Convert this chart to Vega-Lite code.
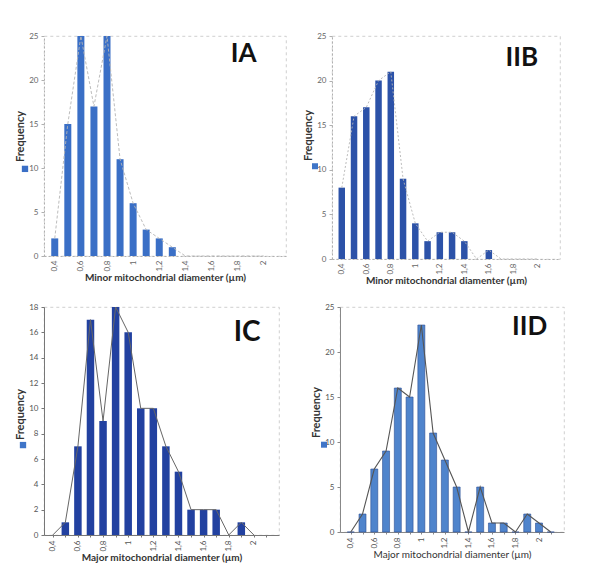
{
  "$schema": "https://vega.github.io/schema/vega-lite/v6.json",
  "background": "white",
  "padding": {"left": 14, "top": 31, "right": 5, "bottom": 2},
  "config": {
    "font": "Lato",
    "view": {"stroke": "#c4c4c4", "strokeDash": [3, 3], "strokeWidth": 0.8},
    "axis": {
      "labelFont": "Lato", "labelFontSize": 8, "labelColor": "#666", "labelOverlap": false, "tickCount": 30,
      "titleFont": "Lato", "titleFontWeight": "bold", "titleColor": "#333",
      "grid": false, "domainColor": "#b0b0b0", "tickColor": "#b0b0b0", "tickSize": 3
    },
    "text": {"font": "Lato"}
  },
  "datasets": {
    "ia": [
      {"diameter": 0.4, "frequency": 2}, {"diameter": 0.5, "frequency": 15}, {"diameter": 0.6, "frequency": 25},
      {"diameter": 0.7, "frequency": 17}, {"diameter": 0.8, "frequency": 25}, {"diameter": 0.9, "frequency": 11},
      {"diameter": 1.0, "frequency": 6}, {"diameter": 1.1, "frequency": 3}, {"diameter": 1.2, "frequency": 2},
      {"diameter": 1.3, "frequency": 1}, {"diameter": 1.4, "frequency": 0}, {"diameter": 1.5, "frequency": 0},
      {"diameter": 1.6, "frequency": 0}, {"diameter": 1.7, "frequency": 0}, {"diameter": 1.8, "frequency": 0},
      {"diameter": 1.9, "frequency": 0}, {"diameter": 2.0, "frequency": 0}
    ],
    "iib": [
      {"diameter": 0.4, "frequency": 8}, {"diameter": 0.5, "frequency": 16}, {"diameter": 0.6, "frequency": 17},
      {"diameter": 0.7, "frequency": 20}, {"diameter": 0.8, "frequency": 21}, {"diameter": 0.9, "frequency": 9},
      {"diameter": 1.0, "frequency": 4}, {"diameter": 1.1, "frequency": 2}, {"diameter": 1.2, "frequency": 3},
      {"diameter": 1.3, "frequency": 3}, {"diameter": 1.4, "frequency": 2}, {"diameter": 1.5, "frequency": 0},
      {"diameter": 1.6, "frequency": 1}, {"diameter": 1.7, "frequency": 0}, {"diameter": 1.8, "frequency": 0},
      {"diameter": 1.9, "frequency": 0}, {"diameter": 2.0, "frequency": 0}
    ],
    "ic": [
      {"diameter": 0.4, "frequency": 0}, {"diameter": 0.5, "frequency": 1}, {"diameter": 0.6, "frequency": 7},
      {"diameter": 0.7, "frequency": 17}, {"diameter": 0.8, "frequency": 9}, {"diameter": 0.9, "frequency": 18},
      {"diameter": 1.0, "frequency": 16}, {"diameter": 1.1, "frequency": 10}, {"diameter": 1.2, "frequency": 10},
      {"diameter": 1.3, "frequency": 7}, {"diameter": 1.4, "frequency": 5}, {"diameter": 1.5, "frequency": 2},
      {"diameter": 1.6, "frequency": 2}, {"diameter": 1.7, "frequency": 2}, {"diameter": 1.8, "frequency": 0},
      {"diameter": 1.9, "frequency": 1}, {"diameter": 2.0, "frequency": 0}
    ],
    "iid": [
      {"diameter": 0.4, "frequency": 0}, {"diameter": 0.5, "frequency": 2}, {"diameter": 0.6, "frequency": 7},
      {"diameter": 0.7, "frequency": 9}, {"diameter": 0.8, "frequency": 16}, {"diameter": 0.9, "frequency": 15},
      {"diameter": 1.0, "frequency": 23}, {"diameter": 1.1, "frequency": 11}, {"diameter": 1.2, "frequency": 8},
      {"diameter": 1.3, "frequency": 5}, {"diameter": 1.4, "frequency": 0}, {"diameter": 1.5, "frequency": 5},
      {"diameter": 1.6, "frequency": 1}, {"diameter": 1.7, "frequency": 1}, {"diameter": 1.8, "frequency": 0},
      {"diameter": 1.9, "frequency": 2}, {"diameter": 2.0, "frequency": 1}, {"diameter": 2.1, "frequency": 0}
    ]
  },
  "vconcat": [
    {
      "spacing": 15,
      "hconcat": [
        {
          "width": 242, "height": 220,
          "layer": [
            {"data": {"name": "ia"},
              "mark": {"type": "bar", "width": 7, "color": "#3a6fc6"},
              "encoding": {
                "x": {"field": "diameter", "type": "quantitative",
                  "scale": {"domain": [0.356, 2.132], "nice": false, "zero": false},
                  "axis": {"values": [0.4, 0.6, 0.8, 1, 1.2, 1.4, 1.6, 1.8, 2], "tickCount": 30, "format": "~g", "labelExpr": "replace(datum.label, '.', ',')",
                    "labelOverlap": false, "labelAngle": -90, "domainDash": [2, 2], "ticks": false, "labelPadding": 4, "title": "Minor mitochondrial diamenter (µm)", "titleFontSize": 10, "titlePadding": 1}},
                "y": {"field": "frequency", "type": "quantitative",
                  "scale": {"domain": [0, 25], "nice": false},
                  "axis": {"values": [0, 5, 10, 15, 20, 25], "tickCount": 30, "format": "d", "labelOverlap": false, "domainDash": [2, 2], "labelPadding": 3, "title": "Frequency", "titleFontSize": 11, "titlePadding": 3, "titleY": 100}}
              }},
            {"data": {"name": "ia"},
              "mark": {"type": "line", "color": "#b4b4b4", "strokeWidth": 0.9, "strokeDash": [3, 2]},
              "encoding": {"x": {"field": "diameter", "type": "quantitative"}, "y": {"field": "frequency", "type": "quantitative"}}},
            {"data": {"values": [{"panel": "IA"}]},
              "mark": {"type": "text", "fontSize": 26, "fontWeight": "bold", "color": "#111"},
              "encoding": {"text": {"field": "panel"}, "x": {"datum": 1.846}, "y": {"datum": 22.9}}},
            {"data": {"values": [{"key": "Frequency"}]},
              "mark": {"type": "point", "shape": "square", "filled": true, "size": 40, "color": "#3a6fc6", "opacity": 1, "xOffset": -24},
              "encoding": {"x": {"datum": 0.356}, "y": {"datum": 9.9}}}
          ]
        },
        {
          "width": 228, "height": 223,
          "layer": [
            {"data": {"name": "iib"},
              "mark": {"type": "bar", "width": 6.5, "color": "#2c52a8"},
              "encoding": {
                "x": {"field": "diameter", "type": "quantitative",
                  "scale": {"domain": [0.361, 2.14], "nice": false, "zero": false},
                  "axis": {"values": [0.4, 0.6, 0.8, 1, 1.2, 1.4, 1.6, 1.8, 2], "tickCount": 30, "format": "~g", "labelExpr": "replace(datum.label, '.', ',')",
                    "labelOverlap": false, "labelAngle": -90, "domainDash": [2, 2], "ticks": false, "labelPadding": 4, "title": "Minor mitochondrial diamenter (µm)", "titleFontSize": 10, "titlePadding": 1}},
                "y": {"field": "frequency", "type": "quantitative",
                  "scale": {"domain": [0, 25], "nice": false},
                  "axis": {"values": [0, 5, 10, 15, 20, 25], "tickCount": 30, "format": "d", "labelOverlap": false, "domainDash": [2, 2], "labelPadding": 3, "title": "Frequency", "titleFontSize": 11, "titlePadding": 3, "titleY": 99}}
              }},
            {"data": {"name": "iib"},
              "mark": {"type": "line", "color": "#b4b4b4", "strokeWidth": 0.9, "strokeDash": [2, 2]},
              "encoding": {"x": {"field": "diameter", "type": "quantitative"}, "y": {"field": "frequency", "type": "quantitative"}}},
            {"data": {"values": [{"panel": "IIB"}]},
              "mark": {"type": "text", "fontSize": 26, "fontWeight": "bold", "color": "#111"},
              "encoding": {"text": {"field": "panel"}, "x": {"datum": 1.869}, "y": {"datum": 22.5}}},
            {"data": {"values": [{"key": "Frequency"}]},
              "mark": {"type": "point", "shape": "square", "filled": true, "size": 36, "color": "#3f75c8", "opacity": 1, "xOffset": -22},
              "encoding": {"x": {"datum": 0.361}, "y": {"datum": 10.4}}}
          ]
        }
      ]
    },
    {
      "spacing": 30,
      "hconcat": [
        {
          "width": 235, "height": 228,
          "layer": [
            {"data": {"name": "ic"},
              "mark": {"type": "bar", "width": 7.5, "color": "#2241a0"},
              "encoding": {
                "x": {"field": "diameter", "type": "quantitative",
                  "scale": {"domain": [0.37, 2.16], "nice": false, "zero": false},
                  "axis": {"values": [0.4, 0.5, 0.6, 0.7, 0.8, 0.9, 1, 1.1, 1.2, 1.3, 1.4, 1.5, 1.6, 1.7, 1.8, 1.9, 2, 2.1], "tickCount": 30, "format": "~g",
                    "labelExpr": "indexof(['0.4','0.6','0.8','1','1.2','1.4','1.6','1.8','2'], datum.label) >= 0 ? replace(datum.label, '.', ',') : ''",
                    "labelOverlap": false, "labelAngle": -90, "domainColor": "#777", "tickColor": "#777", "tickSize": 2, "labelPadding": 3, "labelColor": "#555", "title": "Major mitochondrial diamenter (µm)", "titleFontSize": 10, "titlePadding": 1}},
                "y": {"field": "frequency", "type": "quantitative",
                  "scale": {"domain": [0, 18], "nice": false},
                  "axis": {"values": [0, 2, 4, 6, 8, 10, 12, 14, 16, 18], "tickCount": 30, "format": "d", "labelOverlap": false, "domainColor": "#777", "tickColor": "#777", "labelColor": "#555", "labelPadding": 3, "title": "Frequency", "titleFontSize": 11, "titlePadding": 3, "titleY": 107}}
              }},
            {"data": {"name": "ic"},
              "mark": {"type": "line", "color": "#666", "strokeWidth": 1},
              "encoding": {"x": {"field": "diameter", "type": "quantitative"}, "y": {"field": "frequency", "type": "quantitative"}}},
            {"data": {"values": [{"panel": "IC"}]},
              "mark": {"type": "text", "fontSize": 28, "fontWeight": "bold", "color": "#111"},
              "encoding": {"text": {"field": "panel"}, "x": {"datum": 1.947}, "y": {"datum": 15.95}}},
            {"data": {"values": [{"key": "Frequency"}]},
              "mark": {"type": "point", "shape": "square", "filled": true, "size": 40, "color": "#3f75c8", "opacity": 1, "xOffset": -26},
              "encoding": {"x": {"datum": 0.37}, "y": {"datum": 7.1}}}
          ]
        },
        {
          "width": 224, "height": 225,
          "layer": [
            {"data": {"name": "iid"},
              "mark": {"type": "bar", "width": 7, "color": "#4f84cc", "stroke": "#2b4f94", "strokeWidth": 0.6},
              "encoding": {
                "x": {"field": "diameter", "type": "quantitative",
                  "scale": {"domain": [0.351, 2.17], "nice": false, "zero": false},
                  "axis": {"values": [0.4, 0.5, 0.6, 0.7, 0.8, 0.9, 1, 1.1, 1.2, 1.3, 1.4, 1.5, 1.6, 1.7, 1.8, 1.9, 2, 2.1], "tickCount": 30, "format": "~g",
                    "labelExpr": "indexof(['0.4','0.6','0.8','1','1.2','1.4','1.6','1.8','2'], datum.label) >= 0 ? replace(datum.label, '.', ',') : ''",
                    "labelOverlap": false, "labelAngle": -90, "domainColor": "#888", "tickColor": "#888", "tickSize": 2, "labelPadding": 3, "labelColor": "#555", "title": "Major mitochondrial diamenter (µm)", "titleFontSize": 10, "titleFontWeight": "normal", "titlePadding": 1}},
                "y": {"field": "frequency", "type": "quantitative",
                  "scale": {"domain": [0, 25], "nice": false},
                  "axis": {"values": [0, 5, 10, 15, 20, 25], "tickCount": 30, "format": "d", "labelOverlap": false, "domainColor": "#888", "tickColor": "#888", "labelColor": "#555", "labelPadding": 3, "title": "Frequency", "titleFontSize": 11, "titlePadding": 3, "titleY": 105}}
              }},
            {"data": {"name": "iid"},
              "mark": {"type": "line", "color": "#555", "strokeWidth": 1.1},
              "encoding": {"x": {"field": "diameter", "type": "quantitative"}, "y": {"field": "frequency", "type": "quantitative"}}},
            {"data": {"values": [{"panel": "IID"}]},
              "mark": {"type": "text", "fontSize": 26, "fontWeight": "bold", "color": "#111"},
              "encoding": {"text": {"field": "panel"}, "x": {"datum": 1.92}, "y": {"datum": 22.8}}},
            {"data": {"values": [{"key": "Frequency"}]},
              "mark": {"type": "point", "shape": "square", "filled": true, "size": 36, "color": "#3f75c8", "opacity": 1, "xOffset": -21},
              "encoding": {"x": {"datum": 0.351}, "y": {"datum": 9.7}}}
          ]
        }
      ]
    }
  ],
  "spacing": 16
}
